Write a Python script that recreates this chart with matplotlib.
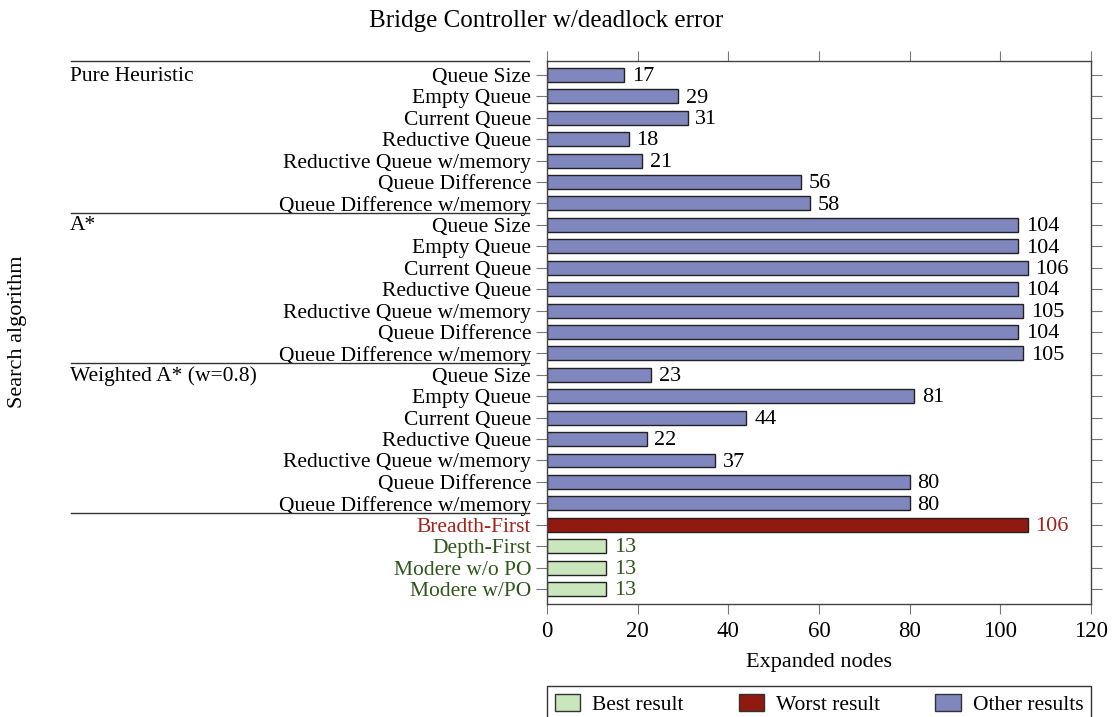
import matplotlib
matplotlib.use("Agg")
import matplotlib.pyplot as plt
from matplotlib.patches import Patch
from matplotlib.transforms import blended_transform_factory

plt.rcParams['font.family'] = ['Liberation Serif', 'DejaVu Serif']

# Data
heuristics = ['Queue Size', 'Empty Queue', 'Current Queue', 'Reductive Queue',
              'Reductive Queue w/memory', 'Queue Difference', 'Queue Difference w/memory']
groups = ['Pure Heuristic', 'A*', 'Weighted A* (w=0.8)']
pure_vals = [17, 29, 31, 18, 21, 56, 58]
astar_vals = [104, 104, 106, 104, 105, 104, 105]
weighted_vals = [23, 81, 44, 22, 37, 80, 80]
base_labels = ['Breadth-First', 'Depth-First', 'Modere w/o PO', 'Modere w/PO']
base_vals = [106, 13, 13, 13]
base_kind = ['worst', 'best', 'best', 'best']

fill = {'best': '#c9e6bc', 'worst': '#901a10', 'other': '#8086be'}
text_col = {'best': '#2f571c', 'worst': '#a3231a', 'other': 'black'}

labels = heuristics * 3 + base_labels
values = pure_vals + astar_vals + weighted_vals + base_vals
kinds = ['other'] * 21 + base_kind
ypos = list(range(len(values)))

fig = plt.figure(figsize=(11.13, 7.17), dpi=100)
ax = fig.add_axes([0.4915, 0.1576, 0.4887, 0.7573])

ax.barh(ypos, values, height=0.65, color=[fill[k] for k in kinds],
        edgecolor='#222222', linewidth=1.0, zorder=2)
for y, v, k in zip(ypos, values, kinds):
    ax.text(v + 1.7, y + 0.08, str(v), va='center', ha='left', fontsize=16,
            color=text_col[k])

ax.set_xlim(0, 120)
ax.set_ylim(24.7, -0.65)
ax.set_xticks([0, 20, 40, 60, 80, 100, 120])
ax.set_yticks(ypos)
ax.set_yticklabels(labels, fontsize=15.5)
for lbl, k in zip(ax.get_yticklabels(), kinds):
    lbl.set_color(text_col[k])
ax.tick_params(axis='x', labelsize=16.5, direction='out', length=7, top=True,
               color='#777777', pad=5)
ax.tick_params(axis='y', direction='out', length=8, right=True,
               color='#777777', pad=3.5)
for s in ax.spines.values():
    s.set_color('#444444')
    s.set_linewidth(1.0)

ax.set_xlabel('Expanded nodes', fontsize=16, labelpad=8)
fig.text(0.016, 0.537, 'Search algorithm', rotation=90, fontsize=16,
         ha='center', va='center')
fig.text(0.491, 0.971, 'Bridge Controller w/deadlock error', fontsize=18,
         ha='center', va='center')

# group labels and separators
tr = blended_transform_factory(fig.transFigure, ax.transData)
for i, g in enumerate(groups):
    ax.text(70 / 1113, i * 7 + 0.05, g, transform=tr, fontsize=15.5,
            ha='left', va='center')
for yb in [-0.65, 6.45, 13.45, 20.45]:
    ax.plot([71 / 1113, 529 / 1113], [yb, yb], transform=tr, color='#333333',
            linewidth=1.0, clip_on=False)

handles = [Patch(facecolor=fill['best'], edgecolor='#333333', label='Best result'),
           Patch(facecolor=fill['worst'], edgecolor='#333333', label='Worst result'),
           Patch(facecolor=fill['other'], edgecolor='#333333', label='Other results')]
leg = ax.legend(handles=handles, loc='upper left', bbox_to_anchor=(0, -0.151, 1, 0),
                mode='expand', ncol=3, fontsize=15.5, fancybox=False,
                edgecolor='#333333', framealpha=1, handlelength=1.2,
                handleheight=0.9, borderpad=0.35, borderaxespad=0,
                columnspacing=1.0, handletextpad=0.55)
leg.get_frame().set_linewidth(1.0)

fig.savefig('out.png', dpi=100)
